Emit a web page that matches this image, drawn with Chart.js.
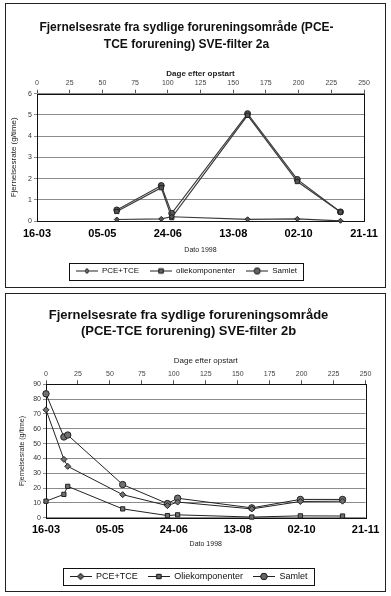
<!DOCTYPE html>
<html>
<head>
<meta charset="utf-8">
<script src="https://cdn.jsdelivr.net/npm/chart.js@4.4.1/dist/chart.umd.min.js"></script>
<style>
  html, body { margin: 0; padding: 0; background: #fff; }
  .box { position: absolute; left: 5px; width: 379px; border: 1px solid #222; background: #fff; }
  #boxA { top: 3px; height: 283px; }
  #boxB { top: 293px; height: 297px; }
  canvas { display: block; }
</style>
</head>
<body>
<div class="box" id="boxA"><canvas id="chartA" width="379" height="283"></canvas></div>
<div class="box" id="boxB"><canvas id="chartB" width="379" height="297"></canvas></div>
<script>
// Shared axes: days after start (top) and dates 1998 (bottom)
const dayTicks = [0, 25, 50, 75, 100, 125, 150, 175, 200, 225, 250];
const dateTickDays = [0, 50, 100, 150, 200, 250];
const dateLabels = ["16-03", "05-05", "24-06", "13-08", "02-10", "21-11"];

// Filter 2a (g/time)
const daysA = [61, 95, 103, 161, 199, 232];
const pceA = [0.07, 0.10, 0.20, 0.08, 0.10, 0.01];
const olieA = [0.45, 1.57, 0.16, 4.98, 1.86, 0.42];
const samletA = [0.52, 1.67, 0.36, 5.06, 1.96, 0.43];
const namesA = ["PCE+TCE", "oliekomponenter", "Samlet"];

// Filter 2b (g/time)
const daysB = [0, 14, 17, 60, 95, 103, 161, 199, 232];
const pceB = [72.8, 39.4, 34.7, 15.6, 8.2, 10.6, 6.0, 11.0, 11.2];
const olieB = [11.2, 15.8, 21.2, 6.0, 1.5, 2.0, 0.5, 1.3, 1.2];
const samletB = [83.6, 54.5, 55.8, 22.4, 9.6, 13.2, 6.7, 12.4, 12.4];
const namesB = ["PCE+TCE", "Oliekomponenter", "Samlet"];

const FONT = "'Liberation Sans', Arial, sans-serif";
const MARKERS = ["rectRot", "rect", "circle"];

// small line+marker images for the legend
function makeIcon(style, r) {
  const c = document.createElement("canvas");
  c.width = 22; c.height = 9;
  const g = c.getContext("2d");
  g.strokeStyle = "#222"; g.lineWidth = 1;
  g.beginPath(); g.moveTo(0, 4.5); g.lineTo(22, 4.5); g.stroke();
  g.fillStyle = "#666";
  Chart.helpers.drawPoint(g, { pointStyle: style, radius: r, borderWidth: 1 }, 11, 4.5);
  g.fill(); g.stroke();
  return c;
}

const framePlugin = {
  id: "frame",
  beforeDatasetsDraw(chart) {
    const a = chart.chartArea, ctx = chart.ctx;
    ctx.save();
    ctx.strokeStyle = "#111"; ctx.lineWidth = 1;
    ctx.strokeRect(Math.round(a.left) + 0.5, Math.round(a.top) + 0.5,
      Math.round(a.right - a.left), Math.round(a.bottom - a.top));
    ctx.restore();
  },
  afterDraw(chart) {
    const lg = chart.legend;
    if (!lg || !lg.legendHitBoxes.length) return;
    const hb = lg.legendHitBoxes;
    const l = Math.min(...hb.map((h) => h.left)) - 7;
    const r = Math.max(...hb.map((h) => h.left + h.width)) + 6;
    const cy = hb[0].top + hb[0].height / 2;
    const ctx = chart.ctx;
    ctx.save();
    ctx.strokeStyle = "#111"; ctx.lineWidth = 1;
    ctx.strokeRect(Math.round(l) + 0.5, Math.round(cy - 8.5) + 0.5, Math.round(r - l), 17);
    ctx.restore();
  },
};

function drawChart(canvasId, g) {
  const ctx = document.getElementById(canvasId).getContext("2d");
  const series = [g.pce, g.olie, g.samlet];
  const icons = MARKERS.map((m, i) => makeIcon(m, g.radius[i]));

  return new Chart(ctx, {
    type: "line",
    data: {
      datasets: series.map((vals, i) => ({
        label: g.names[i],
        data: vals.map((v, j) => ({ x: g.days[j], y: v })),
        borderColor: g.lineColor,
        borderWidth: g.lineWidth,
        pointStyle: MARKERS[i],
        pointRadius: g.radius[i],
        pointBackgroundColor: g.pointFill,
        pointBorderColor: "#222",
        pointBorderWidth: 1,
        tension: 0,
        clip: false,
      })),
    },
    options: {
      responsive: false,
      animation: false,
      layout: { padding: g.pad },
      plugins: {
        title: {
          display: true,
          text: g.title,
          color: "#111",
          font: { family: FONT, size: g.titleSize, weight: "bold", lineHeight: g.titleLH },
          padding: { top: g.titleTop, bottom: 2 },
        },
        legend: {
          position: "bottom",
          labels: {
            usePointStyle: true,
            pointStyleWidth: 22,
            padding: g.legendPad,
            color: "#111",
            font: { family: FONT, size: g.legendSize },
            generateLabels: (chart) =>
              Chart.defaults.plugins.legend.labels.generateLabels(chart).map((it, i) => {
                it.pointStyle = icons[i];
                return it;
              }),
          },
        },
        tooltip: { enabled: false },
      },
      scales: {
        x: {
          type: "linear", position: "bottom", min: 0, max: 250,
          afterBuildTicks: (s) => { s.ticks = dateTickDays.map((v) => ({ value: v })); },
          afterFit: (s) => { s.height = g.xHeight; },
          grid: { display: false, drawTicks: false },
          border: { display: false },
          ticks: {
            padding: g.xTickPad, color: "#000", maxRotation: 0, autoSkip: false,
            font: { family: FONT, size: 11, weight: "bold" },
            callback: (v, i) => dateLabels[i],
          },
          title: {
            display: true, text: "Dato 1998", color: "#222",
            font: { family: FONT, size: 7 }, padding: { top: 0, bottom: g.xTitlePad },
          },
        },
        x2: {
          type: "linear", position: "top", min: 0, max: 250,
          afterBuildTicks: (s) => { s.ticks = dayTicks.map((v) => ({ value: v })); },
          afterFit: (s) => { s.height = g.x2Height; },
          grid: { drawOnChartArea: false, drawTicks: true, tickLength: 4, color: "#555" },
          border: { display: false },
          ticks: { padding: g.x2TickPad, color: "#444", maxRotation: 0, autoSkip: false, font: { family: FONT, size: 7 } },
          title: {
            display: true, text: "Dage efter opstart", color: "#222",
            font: { family: FONT, size: 8, weight: g.daysWeight }, padding: { top: g.x2TitlePad, bottom: 0 },
          },
        },
        y: {
          min: 0, max: g.yMax,
          afterFit: (s) => { s.width = g.yWidth; },
          grid: { color: "#8c8c8c", lineWidth: 1, tickLength: 3, drawTicks: true },
          border: { display: false },
          ticks: { stepSize: g.yStep, padding: 2, color: "#333", font: { family: FONT, size: 7 } },
          title: {
            display: true, text: "Fjernelsesrate (g/time)", color: "#222",
            font: { family: FONT, size: g.yTitleSize }, padding: { top: g.yTitlePad, bottom: 0 },
          },
        },
      },
    },
    plugins: [framePlugin],
  });
}

drawChart("chartA", {
  days: daysA, pce: pceA, olie: olieA, samlet: samletA, names: namesA,
  title: ["Fjernelsesrate fra sydlige forureningsområde (PCE-", "TCE forurening) SVE-filter 2a"],
  titleSize: 12, titleLH: 1.4, titleTop: 15,
  pad: { left: 3, right: 21, top: 0, bottom: 2 },
  x2Height: 39.1, x2TitlePad: 14.6, x2TickPad: 2.5, daysWeight: "bold",
  xHeight: 35, xTickPad: 6.4, xTitlePad: 1.8,
  yWidth: 28, yMax: 6, yStep: 1, yTitleSize: 8, yTitlePad: 0,
  legendPad: 11, legendSize: 8,
  lineColor: "#3a3a3a", lineWidth: 1.2, pointFill: "#555", radius: [2.5, 3, 3],
});

drawChart("chartB", {
  days: daysB, pce: pceB, olie: olieB, samlet: samletB, names: namesB,
  title: ["Fjernelsesrate fra sydlige forureningsområde", "(PCE-TCE forurening) SVE-filter 2b"],
  titleSize: 13, titleLH: 1.3, titleTop: 12.5,
  pad: { left: 3, right: 17, top: 0, bottom: 0 },
  x2Height: 42, x2TitlePad: 13.9, x2TickPad: 2.1, daysWeight: "normal",
  xHeight: 44.2, xTickPad: 5.7, xTitlePad: 13.7,
  yWidth: 37, yMax: 90, yStep: 10, yTitleSize: 7, yTitlePad: 8.5,
  legendPad: 10, legendSize: 9,
  lineColor: "#222", lineWidth: 1, pointFill: "#707070", radius: [3, 3, 3.2],
});
</script>
</body>
</html>
